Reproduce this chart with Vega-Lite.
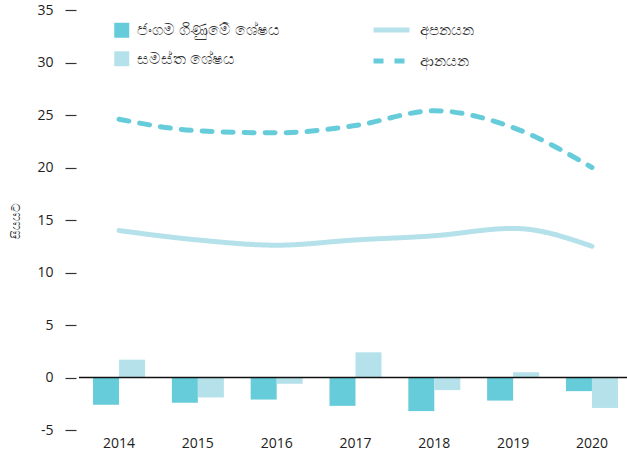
{
  "$schema": "https://vega.github.io/schema/vega-lite/v6.json",
  "autosize": {"type": "none"},
  "width": 548,
  "height": 420,
  "padding": {"left": 79, "top": 10, "right": 0, "bottom": 27},
  "config": {"view": {"stroke": null}, "font": "Open Sans"},
  "datasets": {
    "bars": [
      {"year": "2014", "series": "ජංගම ගිණුමේ ශේෂය", "value": -2.6},
      {"year": "2014", "series": "සමස්ත ශේෂය", "value": 1.7},
      {"year": "2015", "series": "ජංගම ගිණුමේ ශේෂය", "value": -2.4},
      {"year": "2015", "series": "සමස්ත ශේෂය", "value": -1.9},
      {"year": "2016", "series": "ජංගම ගිණුමේ ශේෂය", "value": -2.1},
      {"year": "2016", "series": "සමස්ත ශේෂය", "value": -0.6},
      {"year": "2017", "series": "ජංගම ගිණුමේ ශේෂය", "value": -2.7},
      {"year": "2017", "series": "සමස්ත ශේෂය", "value": 2.4},
      {"year": "2018", "series": "ජංගම ගිණුමේ ශේෂය", "value": -3.2},
      {"year": "2018", "series": "සමස්ත ශේෂය", "value": -1.2},
      {"year": "2019", "series": "ජංගම ගිණුමේ ශේෂය", "value": -2.2},
      {"year": "2019", "series": "සමස්ත ශේෂය", "value": 0.5},
      {"year": "2020", "series": "ජංගම ගිණුමේ ශේෂය", "value": -1.3},
      {"year": "2020", "series": "සමස්ත ශේෂය", "value": -2.9}
    ],
    "lines": [
      {"year": "2014", "series": "අපනයන", "value": 14.0},
      {"year": "2015", "series": "අපනයන", "value": 13.1},
      {"year": "2016", "series": "අපනයන", "value": 12.6},
      {"year": "2017", "series": "අපනයන", "value": 13.1},
      {"year": "2018", "series": "අපනයන", "value": 13.5},
      {"year": "2019", "series": "අපනයන", "value": 14.2},
      {"year": "2020", "series": "අපනයන", "value": 12.5},
      {"year": "2014", "series": "ආනයන", "value": 24.6},
      {"year": "2015", "series": "ආනයන", "value": 23.5},
      {"year": "2016", "series": "ආනයන", "value": 23.3},
      {"year": "2017", "series": "ආනයන", "value": 24.0},
      {"year": "2018", "series": "ආනයන", "value": 25.4},
      {"year": "2019", "series": "ආනයන", "value": 23.8},
      {"year": "2020", "series": "ආනයන", "value": 20.0}
    ],
    "zero": [{"v": 0}]
  },
  "layer": [
    {
      "data": {"name": "bars"},
      "mark": {"type": "bar"},
      "encoding": {
        "x": {
          "field": "year", "type": "ordinal",
          "scale": {"range": [0, 553], "paddingInner": 0.34, "paddingOuter": 0.178},
          "axis": {"title": null, "domain": false, "ticks": false, "labelAngle": 0, "labelPadding": 6, "labelFontSize": 14, "labelColor": "#222"}
        },
        "xOffset": {"field": "series", "sort": ["ජංගම ගිණුමේ ශේෂය", "සමස්ත ශේෂය"]},
        "y": {
          "field": "value", "type": "quantitative",
          "scale": {"domain": [-5, 35], "nice": false, "zero": false},
          "axis": {
            "title": "සියයට", "titleFontSize": 12, "titleFontWeight": "normal", "titleColor": "#333", "titlePadding": 14,
            "values": [-5, 0, 5, 10, 15, 20, 25, 30, 35],
            "labelExpr": "replace(datum.label, '−', '-')",
            "domain": false, "grid": false, "ticks": true, "tickSize": 11, "tickColor": "#333", "tickWidth": 1.2,
            "offset": 3, "labelPadding": 12, "labelFontSize": 14, "labelColor": "#222"
          }
        },
        "color": {
          "field": "series", "type": "nominal",
          "scale": {"domain": ["ජංගම ගිණුමේ ශේෂය", "සමස්ත ශේෂය"], "range": ["#66CCDA", "#B5E2EA"]},
          "legend": {
            "title": null, "orient": "none", "legendX": 35, "legendY": 12.5, "padding": 0,
            "symbolType": "square", "symbolSize": 225, "symbolStrokeWidth": 0,
            "rowPadding": 11.5, "labelOffset": 7, "labelFontSize": 15.5, "labelColor": "#333"
          }
        }
      }
    },
    {
      "data": {"name": "lines"},
      "mark": {"type": "line", "interpolate": "monotone", "strokeWidth": 5, "strokeCap": "round"},
      "encoding": {
        "x": {"field": "year", "type": "ordinal"},
        "y": {"field": "value", "type": "quantitative"},
        "stroke": {
          "field": "series", "type": "nominal",
          "scale": {"domain": ["අපනයන", "ආනයන"], "range": ["#B5E2EA", "#66CCDA"]},
          "legend": {
            "title": null, "orient": "none", "legendX": 292, "legendY": -0.5, "padding": 0,
            "symbolType": "stroke", "symbolSize": 1296, "symbolStrokeWidth": 5,
            "rowPadding": -14, "labelOffset": 8, "labelFontSize": 15, "labelColor": "#333"
          }
        },
        "strokeDash": {
          "field": "series", "type": "nominal",
          "scale": {"domain": ["අපනයන", "ආනයන"], "range": [[1, 0], [10, 11]]},
          "legend": {
            "title": null, "orient": "none", "legendX": 292, "legendY": -0.5, "padding": 0,
            "symbolType": "stroke", "symbolSize": 1296, "symbolStrokeWidth": 5,
            "rowPadding": -14, "labelOffset": 8, "labelFontSize": 15, "labelColor": "#333"
          }
        }
      }
    },
    {
      "data": {"name": "zero"},
      "mark": {"type": "rule", "color": "#111", "strokeWidth": 1.5},
      "encoding": {"y": {"field": "v", "type": "quantitative"}}
    }
  ]
}
